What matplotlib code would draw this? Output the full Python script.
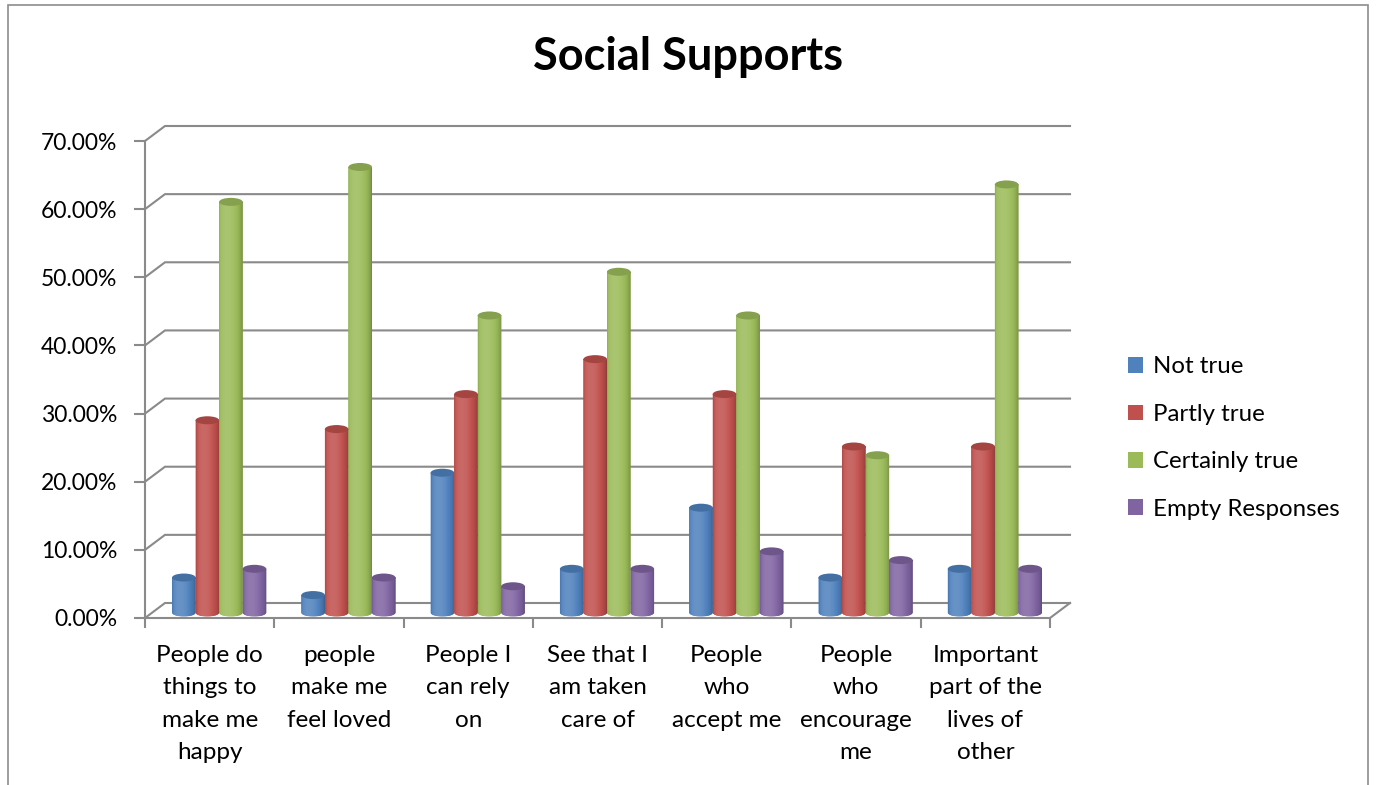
import numpy as np
import matplotlib
matplotlib.use("Agg")
import matplotlib.pyplot as plt
from matplotlib.path import Path
from matplotlib.patches import PathPatch, Ellipse, Patch, Rectangle
from matplotlib.colors import to_rgb

plt.rcParams['font.family'] = ['Lato', 'DejaVu Sans']

# ---- data -------------------------------------------------------------
categories = [
    "People do\nthings to\nmake me\nhappy",
    "people\nmake me\nfeel loved",
    "People I\ncan rely\non",
    "See that I\nam taken\ncare of",
    "People\nwho\naccept me",
    "People\nwho\nencourage\nme",
    "Important\npart of the\nlives of\nother",
]
series_names = ["Not true", "Partly true", "Certainly true", "Empty Responses"]
not_true = [5.13, 2.56, 20.51, 6.41, 15.38, 5.13, 6.41]
partly_true = [28.21, 26.92, 32.05, 37.18, 32.05, 24.36, 24.36]
certainly_true = [60.26, 65.38, 43.59, 50.00, 43.59, 23.08, 62.82]
empty_responses = [6.41, 5.13, 3.85, 6.41, 8.97, 7.69, 6.41]
y_ticks = [0, 10, 20, 30, 40, 50, 60, 70]

series_values = [not_true, partly_true, certainly_true, empty_responses]
colors = ["#4F81BD", "#C0504D", "#9BBB59", "#8064A2"]
grid_color = "#8a8a8a"

# ---- figure / axes ----------------------------------------------------
W, H = 1377, 785
fig = plt.figure(figsize=(W / 100, H / 100), dpi=100)
ax_left, ax_right, ax_top, ax_bottom = 145, 1050, 141, 618
ax = fig.add_axes([ax_left / W, (H - ax_bottom) / H,
                   (ax_right - ax_left) / W, (ax_bottom - ax_top) / H])
n = len(categories)
ax.set_xlim(-0.5, n - 0.5)
ax.set_ylim(0, 70)
ax.patch.set_visible(False)
for sp in ax.spines.values():
    sp.set_visible(False)

# pixel -> data conversions for the pseudo-3D depth offsets
px_x = (ax_right - ax_left) / n
px_y = (ax_bottom - ax_top) / 70.0
back_dx, back_dy = 20 / px_x, 15 / px_y      # back wall
mid_dx, mid_dy = 9.5 / px_x, 5.5 / px_y      # bar depth

# back-wall gridlines with their diagonal returns to the front axis
for v in y_ticks:
    ax.plot([-0.5, -0.5 + back_dx, n - 0.5 + back_dx], [v, v + back_dy, v + back_dy],
            color=grid_color, lw=1.5, clip_on=False, zorder=1, solid_joinstyle='miter')
# front floor edge and right floor return
ax.plot([-0.5, n - 0.5, n - 0.5 + back_dx], [0, 0, back_dy],
        color=grid_color, lw=1.5, clip_on=False, zorder=1)
# vertical value axis
ax.plot([-0.5, -0.5], [0, 70], color=grid_color, lw=1.5, clip_on=False, zorder=1)

# ---- cylinders --------------------------------------------------------
bw = 0.182
r = bw / 2
ry = 4.0 / px_y
t = np.linspace(0, 1, 64)
theta = np.arcsin(np.clip(2 * t - 1, -1, 1))
shade = 0.80 + 0.30 * np.cos(theta + 0.35)


def shaded_row(color):
    base = np.array(to_rgb(color))
    row = []
    for k in shade:
        if k <= 1:
            c = base * k
        else:
            c = base + (1 - base) * (k - 1) * 1.4
        row.append(np.clip(c, 0, 1))
    return np.array(row)[None, :, :]


arc = np.linspace(np.pi, 2 * np.pi, 40)
for s, (vals, col) in enumerate(zip(series_values, colors)):
    img = shaded_row(col)
    for i, v in enumerate(vals):
        cx = i + (s - 1.5) * bw + mid_dx
        y0 = mid_dy
        y1 = v + mid_dy
        # body outline: left side, rounded bottom, right side, top front arc
        bx = list(cx + r * np.cos(arc))
        by = list(y0 + ry * np.sin(arc))
        tx = list(cx + r * np.cos(arc[::-1] - np.pi))
        ty = list(y1 - ry * np.sin(arc[::-1] - np.pi))
        xs = [cx - r] + bx + [cx + r] + tx
        ys = [y1] + by + [y1] + ty
        verts = list(zip(xs, ys)) + [(xs[0], ys[0])]
        codes = [Path.MOVETO] + [Path.LINETO] * (len(verts) - 2) + [Path.CLOSEPOLY]
        body = PathPatch(Path(verts, codes), facecolor=col, edgecolor='none',
                         zorder=3, clip_on=False)
        ax.add_patch(body)
        im = ax.imshow(img, extent=[cx - r, cx + r, y0 - ry, y1], aspect='auto',
                       interpolation='bilinear', zorder=3.1)
        im.set_clip_path(body)
        cap_col = np.array(to_rgb(col)) * 0.86
        ax.add_patch(Ellipse((cx, y1), 2 * r, 2 * ry, facecolor=cap_col,
                             edgecolor='none', zorder=3.2, clip_on=False))

ax.set_xlim(-0.5, n - 0.5)
ax.set_ylim(0, 70)

# ---- ticks ------------------------------------------------------------
ax.set_yticks(y_ticks)
ax.set_yticklabels([f"{v:.2f}%" for v in y_ticks])
ax.tick_params(axis='y', length=8, width=1.5, color=grid_color, direction='out',
               pad=12, labelsize=16.5, labelcolor='black')
ax.set_xticks(np.arange(n))
ax.set_xticklabels(categories, fontsize=17.5, linespacing=1.66, va='top')
ax.set_xticks(np.arange(-0.5, n, 1), minor=True)
ax.tick_params(axis='x', which='major', length=0, pad=19.5)
ax.tick_params(axis='x', which='minor', length=7, width=1.5, color=grid_color,
               direction='out')

# ---- title, legend, frame ---------------------------------------------
fig.text(688 / W, 1 - 57 / H, "Social Supports", ha='center', va='center',
         fontsize=32.5, fontweight='bold')

handles = [Patch(facecolor=c, edgecolor='none') for c in colors]
ax.legend(handles, series_names, loc='center left',
          bbox_to_anchor=(1128 / W, 1 - 438 / H), bbox_transform=fig.transFigure,
          frameon=False, fontsize=17.3, handlelength=0.62, handleheight=0.62,
          handletextpad=0.4, labelspacing=1.1, borderpad=0, borderaxespad=0)

fig.patches.append(Rectangle((8 / W, -0.1), (1368 - 8) / W, 1.1 - 5 / H,
                             transform=fig.transFigure, fill=False,
                             edgecolor="#8c8c8c", lw=1.2))

fig.savefig("out.png", dpi=100)
